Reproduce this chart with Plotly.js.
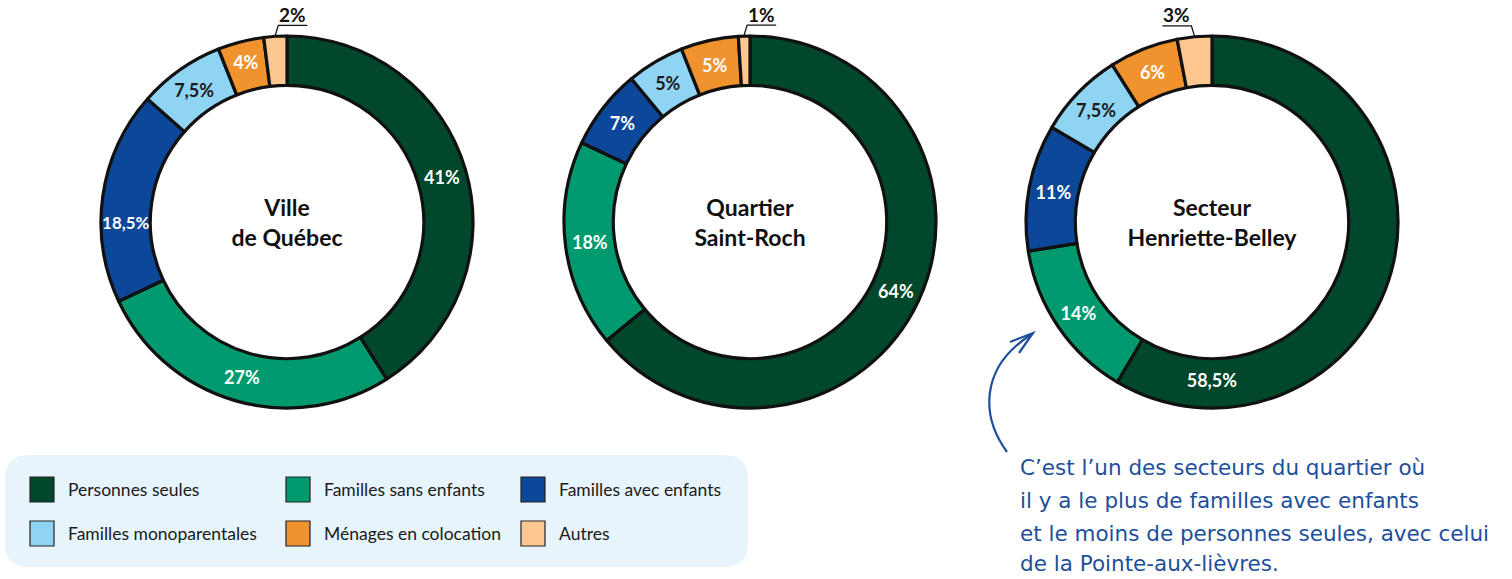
<!DOCTYPE html>
<html>
<head>
<meta charset="utf-8">
<script src="https://cdn.plot.ly/plotly-3.0.1.min.js"></script>
<style>html,body{margin:0;padding:0;background:#fff;}#chart{width:1512px;height:579px;}</style>
</head>
<body>
<div id="chart"></div>
<script>
const categories = ["Personnes seules", "Familles sans enfants", "Familles avec enfants", "Familles monoparentales", "Ménages en colocation", "Autres"];
const colors = ["#00472B", "#009A6E", "#0C4799", "#8FD4F3", "#F0922E", "#FCC890"];
const chartTitles = ["Ville<br>de Québec", "Quartier<br>Saint-Roch", "Secteur<br>Henriette-Belley"];
const villeQuebec = [41, 27, 18.5, 7.5, 4, 2];
const saintRoch = [64, 18, 7, 5, 5, 1];
const henrietteBelley = [58.5, 14, 11, 7.5, 6, 3];
const noteLines = [
  "C’est l’un des secteurs du quartier où",
  "il y a le plus de familles avec enfants",
  "et le moins de personnes seules, avec celui",
  "de la Pointe-aux-lièvres."
];

const W = 1512, H = 579;
const px = x => x / W;
const py = y => 1 - y / H;

const series = [villeQuebec, saintRoch, henrietteBelley];
const centersX = [287, 750, 1212];
const centerY = 222;
const R = 186;
const calloutSide = [1, 1, -1];
const FONT = "Lato, 'Source Sans Pro', 'Noto Sans', sans-serif";

const fmt = v => String(v).replace(".", ",") + "%";
const insideColors = ["#ffffff", "#ffffff", "#ffffff", "#1a1a1a", "#ffffff", "#ffffff"];

const shapes = [];
const annotations = [];

const traces = series.map((vals, i) => {
  const last = vals.length - 1;
  return {
    type: "pie",
    values: vals,
    labels: categories,
    text: vals.map((v, k) => k === last ? "" : fmt(v)),
    textinfo: "text",
    hoverinfo: "label+value",
    sort: false,
    direction: "clockwise",
    rotation: 0,
    hole: 0.735,
    marker: { colors: colors, line: { color: "#111111", width: 3.2 } },
    textposition: "inside",
    insidetextorientation: "horizontal",
    insidetextfont: { family: FONT, size: 18, color: insideColors, weight: 700 },
    textfont: { family: FONT, size: 18, weight: 700 },
    title: { text: chartTitles[i], position: "middle center", font: { family: FONT, size: 23, color: "#111111", weight: 700 } },
    domain: {
      x: [px(centersX[i] - R), px(centersX[i] + R)],
      y: [py(centerY + centerY), py(0)]
    },
    showlegend: false
  };
});

// callout for the smallest slice (label outside, with leader + underline)
series.forEach((vals, i) => {
  const last = vals.length - 1;
  const total = vals.reduce((a, b) => a + b, 0);
  const theta = 2 * Math.PI * (total - vals[last] / 2) / total;
  const sx = centersX[i] + (R + 1) * Math.sin(theta);
  const sy = centerY - (R + 1) * Math.cos(theta);
  const ex = sx + 3 * calloutSide[i];
  const ey = sy - 10;
  const ux = ex + 29 * calloutSide[i];
  shapes.push({
    type: "path", xref: "paper", yref: "paper",
    path: "M" + px(sx) + "," + py(sy) + " L" + px(ex) + "," + py(ey) + " L" + px(ux) + "," + py(ey),
    line: { color: "#111111", width: 1.3 }
  });
  annotations.push({
    xref: "paper", yref: "paper", x: px((ex + ux) / 2), y: py(ey - 11),
    xanchor: "center", yanchor: "middle", showarrow: false,
    text: "<b>" + fmt(vals[last]) + "</b>",
    font: { family: FONT, size: 19, color: "#111111" }
  });
});

// rounded legend background
(function () {
  const x0 = 5, x1 = 748, y0 = 455, y1 = 567, r = 24;
  const p = (x, y) => px(x) + "," + py(y);
  shapes.push({
    type: "path", xref: "paper", yref: "paper",
    path: "M" + p(x0 + r, y0) + " L" + p(x1 - r, y0) + " Q" + p(x1, y0) + " " + p(x1, y0 + r) +
      " L" + p(x1, y1 - r) + " Q" + p(x1, y1) + " " + p(x1 - r, y1) +
      " L" + p(x0 + r, y1) + " Q" + p(x0, y1) + " " + p(x0, y1 - r) +
      " L" + p(x0, y0 + r) + " Q" + p(x0, y0) + " " + p(x0 + r, y0) + " Z",
    fillcolor: "#E8F4FC", line: { width: 0 }, layer: "below"
  });
})();

// legend entries
const colX = [30, 286, 521];
const rowY = [477, 521];
categories.forEach((c, k) => {
  const cx = colX[k % 3], cy = rowY[Math.floor(k / 3)];
  shapes.push({
    type: "rect", xref: "paper", yref: "paper",
    x0: px(cx), x1: px(cx + 24), y0: py(cy + 25), y1: py(cy),
    fillcolor: colors[k], line: { color: "#222222", width: 1.2 }
  });
  annotations.push({
    xref: "paper", yref: "paper", x: px(cx + 36), y: py(cy + 12.5),
    xanchor: "left", yanchor: "middle", showarrow: false,
    text: c, font: { family: FONT, size: 17.5, color: "#1a1a1a" }
  });
});

// note text
const noteY = [467, 500, 533, 563];
noteLines.forEach((t, k) => {
  annotations.push({
    xref: "paper", yref: "paper", x: px(1018), y: py(noteY[k]),
    xanchor: "left", yanchor: "middle", showarrow: false,
    text: t, font: { family: "'DejaVu Sans', sans-serif", size: 21.5, color: "#1D4F9C" }
  });
});

// hand-drawn arrow
const P = (x, y) => px(x) + "," + py(y);
shapes.push({
  type: "path", xref: "paper", yref: "paper",
  path: "M" + P(1007, 452) + " C" + P(982, 418) + " " + P(978, 368) + " " + P(1032, 334),
  line: { color: "#1D4F9C", width: 2.2 }
});
shapes.push({
  type: "path", xref: "paper", yref: "paper",
  path: "M" + P(1010, 342) + " L" + P(1033, 333) + " L" + P(1019, 353),
  line: { color: "#1D4F9C", width: 2.2 }
});

const layout = {
  width: W, height: H,
  margin: { l: 0, r: 0, t: 0, b: 0 },
  paper_bgcolor: "#ffffff",
  showlegend: false,
  shapes: shapes,
  annotations: annotations
};

Plotly.newPlot("chart", traces, layout, { displayModeBar: false, staticPlot: true });
</script>
</body>
</html>
